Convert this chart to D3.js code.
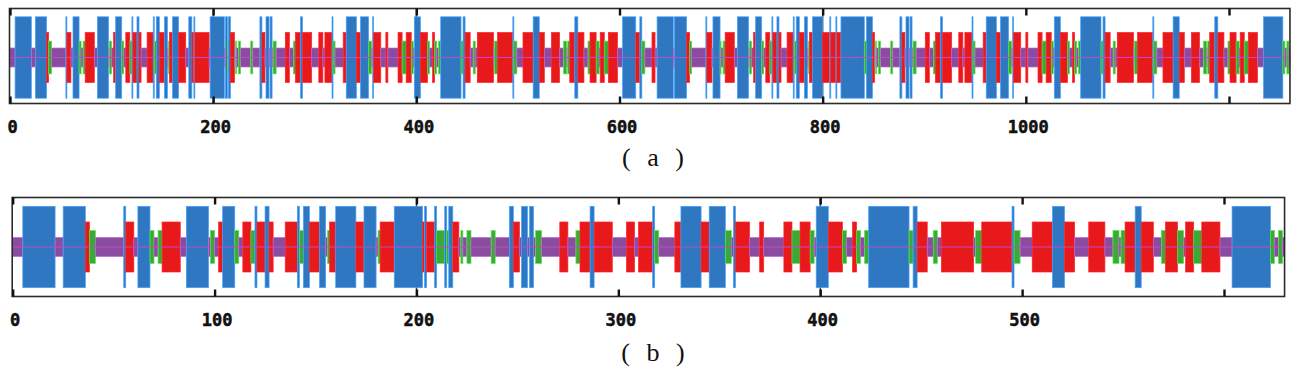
<!DOCTYPE html>
<html>
<head>
<meta charset="utf-8">
<script src="https://cdn.jsdelivr.net/npm/d3@7"></script>
<style>
body { margin:0; background:#fff; }
</style>
</head>
<body>
<svg id="drawing_region"></svg>
<script>
// secondary structure per residue, run-length coded: h helix, e strand, t turn, c coil
const seqA = `
c5 h16 c4 h11 e2 t3 c14 h1 e4 c2 h6 t2 c2 t2 e9 c3 h11 c1 t2 c2 e2 h6 t2 c2 e4 t2 h1 e4 h2 e2 c6 e6 h1 t2 h3 e5 h3
c1 t1 e3 h6 e7 c3 h3 e2 h1 e14 c1 h14 c1 h2 t1 h2 e4
c1 t1 c2 t2 c10 t2 c7 h2 e3 c1 h3 c1 h2 c1 t3 c9 e4 c4 t2 e5 h2 e9 c7 e4 c2 e7 h1 t2 c8 e3 h10 e4 h8 t3 c1 h1 e7
c5 e2 c10 e4 t4 e5 t2 c1 h6 e7 t2 c3 e2 t2 c2 t2 h20 t2 h2 e5 c3 t2 c2 e16 c1 t3 e15 h1 t3 c6 e10 h6 e5 c7 e8 c4
t3 c1 t2 e5 h3 e6 c4 t2 e6 t3 c1 e4 t4 e9
c5 h13 e4 h2 t3 c7 e3 c2
h16 c1 h12 e3 t2 c14 h1 e5 c1 h7 t1 c2 t2 e9 c3 h11
c1 t2 c2 e2 h6 t2 c2 e4 t2 h1 e4 h2 e2 c6 e6 h1 t2 h3 e5 h3 c1 t1 e3 h10
e7 h1 e5 h1 e4 h23 t2 h6 e2
c1 t1 c2 t2 c10 t2 c7 h2 e3 c1 h3 c1 h2 c1 t3 c9 e4 c4 t2 e5 h2 e9 c7 e4 c2 e7 h1 t2 c8 e3 h10 e4 h8 t3 c1 h1 e7
c5 e2 c10 e4 t4 e5 t2 c1 h6 e7 t2 c3 e2 t2 c2 t2 h20 t2 h2 e5 c3 t2 c2 e16 c1 t3 e15 h1 t3 c6 e10 h6 e5 c7 e8 c4
t3 c1 t2 e5 h3 e6 c4 t2 e6 t3 c1 e4 t4 e9 c6 h19 t2 c2 t2 c1`;

const seqB = `
c5 h16 c4 h11 e2 t3 c14 h1 e4 c2 h6 t2 c2 t2 e9 c3 h11 c1 t2 c2 e2 h6 t2 c2 e4 t2 h1 e4 h2 e2 c6 e6 h1 t2 h3 e5 h3
c1 t1 e3 h10 e4 h6 c1 t1 e7 h14 e1 h1 e4 h1 t4 h1 t1 h2 e3
c1 t1 c2 t2 c10 t2 c7 h2 e3 c1 h3 c1 h2 c1 t3 c9 e4 c4 t2 e5 h2 e9 c7 e4 c2 e7 h1 t2 c8 e3 h10 e4 h8 t3 c1 h1 e7
c5 e2 c10 e4 t4 e5 t2 c1 h6 e7 t2 c3 e2 t2 c2 t2 h20 t2 h2 e5 c3 t2 c2 e16 c1 t3 e15 h1 t3 c6 e10 h6 e5 c7 e8 c4
t3 c1 t2 e5 h3 e6 c4 t2 e6 t3 c1 e4 t4 e9 c6 h19 t2 c2 t2 c1`;

const ticksA = [0, 200, 400, 600, 800, 1000, 1200];
const labelsA = ["0", "200", "400", "600", "800", "1000", ""];
const ticksB = [0, 100, 200, 300, 400, 500, 600];
const labelsB = ["0", "100", "200", "300", "400", "500", ""];
const gridA = [200, 400, 800];
const gridB = [200, 400];
const captionA = "( a )";
const captionB = "( b )";

function parseRuns( seq ) {
    let pos = 0;
    return seq.trim().split(/\s+/).map( s => {
        const run = { state: s[0], start: pos, len: +s.slice(1) };
        pos += run.len;
        return run;
    });
}

class StructurePlot {

    constructor( config, runs ) {
        this.config = config;
        this.runs = runs;
        this.init();
    }

    init() {
        let self = this;
        const c = self.config;

        self.chart = d3.select( c.parent ).append('g');

        self.length = d3.sum( self.runs, d => d.len );

        self.xscale = d3.scaleLinear()
            .domain( c.domain )
            .range( c.range );

        // half height of the bar for each state
        self.hscale = d3.scaleOrdinal()
            .domain( ['h','e','t','c'] )
            .range( [40.7, 25, 16.4, 9.5] );

        self.color = d3.scaleOrdinal()
            .domain( ['h','e','t','c'] )
            .range( ['#3077c2', '#e8191b', '#3aa935', '#8a4c9e'] );

        self.xaxis_bottom = d3.axisBottom( self.xscale )
            .tickValues( c.ticks )
            .tickSize( -7 )
            .tickPadding( 17 )
            .tickFormat( (d, i) => c.labels[i] );

        self.xaxis_top = d3.axisTop( self.xscale )
            .tickValues( c.ticks )
            .tickSize( -7 )
            .tickFormat( '' );
    }

    render() {
        let self = this;
        const c = self.config;
        const x0 = self.xscale(0) - 0.5;
        const x1 = self.xscale(self.length);

        // full height grid lines
        self.chart.selectAll('.grid').data( c.grid )
            .enter().append('line')
            .attr('x1', d => self.xscale(d))
            .attr('x2', d => self.xscale(d))
            .attr('y1', c.top)
            .attr('y2', c.bottom)
            .attr('stroke', '#333')
            .attr('stroke-width', 1.4);

        self.chart.selectAll('.run').data( self.runs )
            .enter().append('rect')
            .attr('x', d => self.xscale(d.start))
            .attr('width', d => self.xscale(d.start + d.len) - self.xscale(d.start))
            .attr('y', d => c.center - self.hscale(d.state))
            .attr('height', d => 2 * self.hscale(d.state))
            .attr('fill', d => self.color(d.state))
            .attr('stroke', d => d3.color(self.color(d.state)).brighter(0.9))
            .attr('stroke-width', 0.7);

        self.chart.append('line')
            .attr('x1', x0)
            .attr('x2', x1)
            .attr('y1', c.center)
            .attr('y2', c.center)
            .attr('stroke', '#b84fc4')
            .attr('stroke-width', 1.1);

        self.chart.append('rect')
            .attr('x', x0)
            .attr('y', c.top)
            .attr('width', x1 - x0)
            .attr('height', c.bottom - c.top)
            .attr('fill', 'none')
            .attr('stroke', '#2b2b2b')
            .attr('stroke-width', 1.6);

        const gb = self.chart.append('g')
            .attr('transform', `translate(0, ${c.bottom})`)
            .call( self.xaxis_bottom );
        const gt = self.chart.append('g')
            .attr('transform', `translate(0, ${c.top})`)
            .call( self.xaxis_top );

        [gb, gt].forEach( g => {
            g.select('.domain').remove();
            g.selectAll('.tick line')
                .attr('stroke', '#111')
                .attr('stroke-width', 2.4);
        });
        gb.selectAll('.tick text')
            .attr('fill', '#111')
            .attr('stroke', '#111')
            .attr('stroke-width', 0.5)
            .attr('dx', 2)
            .style('font-family', '"DejaVu Sans Mono", monospace')
            .style('font-weight', 'bold')
            .style('font-size', '17px');

        self.chart.append('text')
            .attr('x', 653)
            .attr('y', c.captionY)
            .attr('text-anchor', 'middle')
            .attr('fill', '#111')
            .style('font-family', '"Liberation Serif", serif')
            .style('font-size', '26px')
            .style('word-spacing', '10px')
            .style('white-space', 'pre')
            .text( c.caption );
    }
}

d3.select('#drawing_region')
    .attr('width', 1299)
    .attr('height', 378);

const plotA = new StructurePlot({
    parent: '#drawing_region',
    domain: [0, 1200], range: [10, 1229],
    top: 8.5, bottom: 103.5, center: 57.5,
    ticks: ticksA, labels: labelsA, grid: gridA,
    caption: captionA, captionY: 166
}, parseRuns( seqA ));
plotA.render();

const plotB = new StructurePlot({
    parent: '#drawing_region',
    domain: [0, 600], range: [12.7, 1224],
    top: 197.5, bottom: 296.5, center: 247,
    ticks: ticksB, labels: labelsB, grid: gridB,
    caption: captionB, captionY: 361
}, parseRuns( seqB ));
plotB.render();
</script>
</body>
</html>
